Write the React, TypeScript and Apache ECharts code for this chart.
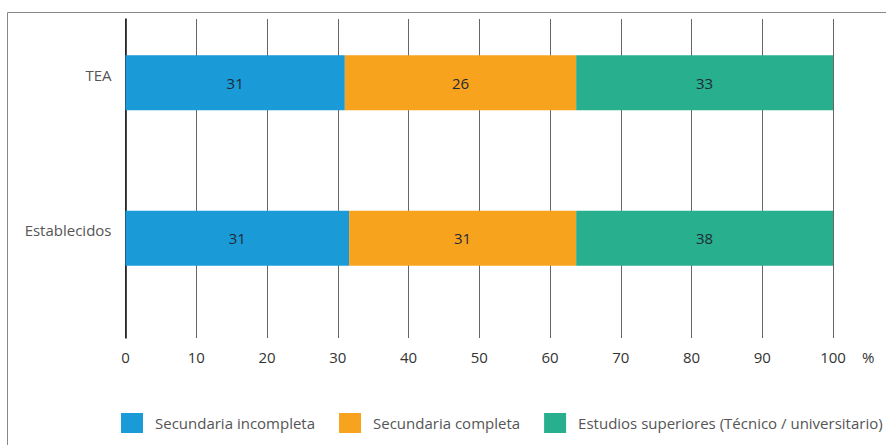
import React, { useEffect, useRef } from "react";
import * as echarts from "echarts";

const categories = ["TEA", "Establecidos"];
const seriesNames = [
  "Secundaria incompleta",
  "Secundaria completa",
  "Estudios superiores (Técnico / universitario)",
];
// bar lengths as drawn in the picture
const incompletaLen = [31.0, 31.6];
const completaLen = [32.7, 32.1];
const superioresLen = [36.3, 36.3];
// labels printed on the bars
const incompletaLbl = [31, 31];
const completaLbl = [26, 31];
const superioresLbl = [33, 38];
const xTicks = [0, 10, 20, 30, 40, 50, 60, 70, 80, 90, 100];

const colors = ["#1a9ad6", "#f8a31e", "#27af8e"];
const FONT = "Open Sans";

export default function App() {
  const ref = useRef<HTMLDivElement>(null);
  useEffect(() => {
    if (!ref.current) return;
    const chart = echarts.init(ref.current, undefined, { renderer: "svg" });
    const lens = [incompletaLen, completaLen, superioresLen];
    const lbls = [incompletaLbl, completaLbl, superioresLbl];
    const left = 125.5;
    const right = 886 - 833;
    chart.setOption({
      animation: false,
      textStyle: { fontFamily: FONT },
      grid: [
        { left, right, top: 19, bottom: 445 - 338 },
        { left, right, top: 5, height: 311 },
      ],
      xAxis: [
        {
          gridIndex: 0,
          type: "value",
          min: xTicks[0],
          max: xTicks[xTicks.length - 1],
          interval: 10,
          axisLine: { show: false },
          axisTick: { show: false },
          splitLine: { show: true, lineStyle: { color: "#666", width: 1 } },
          axisLabel: { color: "#333", fontSize: 15, margin: 11, fontFamily: FONT },
        },
        {
          gridIndex: 1,
          type: "value",
          min: 0,
          max: 100,
          show: false,
          splitLine: { show: false },
        },
      ],
      yAxis: [
        {
          gridIndex: 0,
          type: "category",
          data: categories,
          inverse: true,
          axisLine: { show: true, lineStyle: { color: "#111", width: 1.5 } },
          axisTick: { show: false },
          axisLabel: { show: false },
        },
        {
          gridIndex: 1,
          type: "category",
          data: categories,
          inverse: true,
          axisLine: { show: false },
          axisTick: { show: false },
          axisLabel: {
            color: "#555",
            fontSize: 15,
            margin: 14,
            verticalAlign: "bottom",
            lineHeight: 16,
            fontFamily: FONT,
          },
        },
      ],
      legend: {
        left: 121,
        top: 413,
        padding: 0,
        width: 1200,
        itemWidth: 22,
        itemHeight: 20,
        itemGap: 24,
        icon: "rect",
        textStyle: {
          color: "#555",
          fontSize: 15,
          fontFamily: FONT,
          padding: [0, 0, 0, 7],
        },
        data: seriesNames,
      },
      graphic: [
        {
          type: "rect",
          shape: { x: 7.5, y: 12.5, width: 1000, height: 1000 },
          style: { fill: "none", stroke: "#888", lineWidth: 1 },
          silent: true,
        },
        {
          type: "text",
          x: 862,
          y: 357,
          style: {
            text: "%",
            fill: "#333",
            fontSize: 15,
            fontFamily: FONT,
            verticalAlign: "middle",
          },
        },
      ],
      series: seriesNames.map((name, i) => ({
        name,
        type: "bar",
        stack: "total",
        xAxisIndex: 1,
        yAxisIndex: 1,
        barWidth: 55,
        itemStyle: { color: colors[i] },
        label: {
          show: true,
          position: "inside",
          color: "#1f2a36",
          fontSize: 15,
          fontFamily: FONT,
          formatter: (p: any) => String(lbls[i][p.dataIndex]),
        },
        data: lens[i],
      })),
    });
    return () => chart.dispose();
  }, []);
  return (
    <div
      ref={ref}
      style={{ position: "fixed", left: 0, top: 0, width: 886, height: 445, background: "#fff" }}
    />
  );
}
